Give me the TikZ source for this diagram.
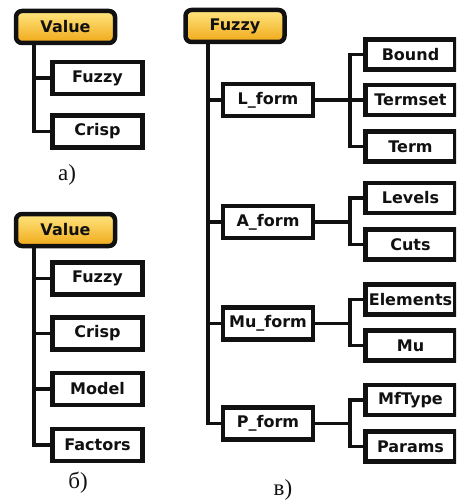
\documentclass[tikz,border=0pt]{standalone}
\usepackage{fontspec}
\setmainfont{DejaVu Sans}
\newfontfamily\capfont{Liberation Serif}
\usetikzlibrary{positioning}
\definecolor{cink}{HTML}{111111}
\definecolor{cgoldtop}{HTML}{FFE680}
\definecolor{cgoldbot}{HTML}{F0A818}
\tikzset{
  every picture/.style={line width=3.5pt},
  leaf/.style={draw=cink, fill=white, line width=4.5pt, minimum width=90pt, minimum height=32pt, inner sep=0pt, font=\fontsize{16}{16}\selectfont\bfseries, text=cink},
  subleaf/.style={leaf, minimum height=30pt},
  root/.style={leaf, rounded corners=6pt, top color=cgoldtop, bottom color=cgoldbot, minimum width=99pt},
  link/.style={draw=cink, line width=3.8pt},
  caption/.style={font=\capfont\fontsize{23}{23}\selectfont, text=cink},
}

\begin{document}
\begin{tikzpicture}[x=1pt, y=-1pt]
  \useasboundingbox (0,0) rectangle (456,503);
  \clip (0,0) rectangle (456,503);
  % a) Value, two kinds
  \node[root] (va) at (65.5,27) {Value};
  \node[leaf] (vafz) at (97.5,78) {Fuzzy};
  \node[leaf] (vacr) at (97.5,131.5) {Crisp};
  \node[caption] (capa) at (67,175) {а)};
  \coordinate (ta) at (34,0);
  \draw[link] (va.south -| ta) |- (vacr.west);
  \draw[link] (ta |- vafz) -- (vafz.west);
  % b) Value, four kinds
  \node[root] (vb) at (65.5,230) {Value};
  \node[leaf] (vbfz) at (97.5,278.5) {Fuzzy};
  \node[leaf] (vbcr) at (97.5,333.5) {Crisp};
  \node[leaf] (vbmd) at (97.5,389) {Model};
  \node[leaf] (vbfc) at (97.5,445) {Factors};
  \node[caption] (capb) at (78,483) {б)};
  \coordinate (tb) at (34,0);
  \draw[link] (vb.south -| tb) |- (vbfc.west);
  \foreach \n in {vbfz, vbcr, vbmd} \draw[link] (tb |- \n) -- (\n.west);
  % c) Fuzzy forms
  \node[root] (fz) at (235,26) {Fuzzy};
  \node[leaf] (lf) at (268,100) {L\_form};
  \node[leaf] (af) at (268,222) {A\_form};
  \node[leaf] (mf) at (268,323.5) {Mu\_form};
  \node[leaf] (pf) at (268,423.5) {P\_form};
  \node[subleaf] (bd) at (410.5,54.5) {Bound};
  \node[subleaf] (ts) at (410.5,100) {Termset};
  \node[subleaf] (tm) at (410.5,146.5) {Term};
  \node[subleaf] (lv) at (410.5,198) {Levels};
  \node[subleaf] (ct) at (410.5,244.5) {Cuts};
  \node[subleaf] (el) at (410.5,299.5) {Elements};
  \node[subleaf] (mu) at (410.5,345.5) {Mu};
  \node[subleaf] (mt) at (410.5,400) {MfType};
  \node[subleaf] (pr) at (410.5,446.5) {Params};
  \node[caption] (capc) at (283,490) {в)};
  \coordinate (tc) at (208,0);
  \coordinate (fk) at (350,0);
  \draw[link] (fz.south -| tc) |- (pf.west);
  \foreach \n in {lf, af, mf} \draw[link] (tc |- \n) -- (\n.west);
  \draw[link] (bd.west) -| (fk |- tm) -- (tm.west);
  \draw[link] (lf.east) -- (ts.west);
  \draw[link] (lv.west) -| (fk |- ct) -- (ct.west);
  \draw[link] (af.east) -- (af.east -| fk);
  \draw[link] (el.west) -| (fk |- mu) -- (mu.west);
  \draw[link] (mf.east) -- (mf.east -| fk);
  \draw[link] (mt.west) -| (fk |- pr) -- (pr.west);
  \draw[link] (pf.east) -- (pf.east -| fk);
\end{tikzpicture}
\end{document}
